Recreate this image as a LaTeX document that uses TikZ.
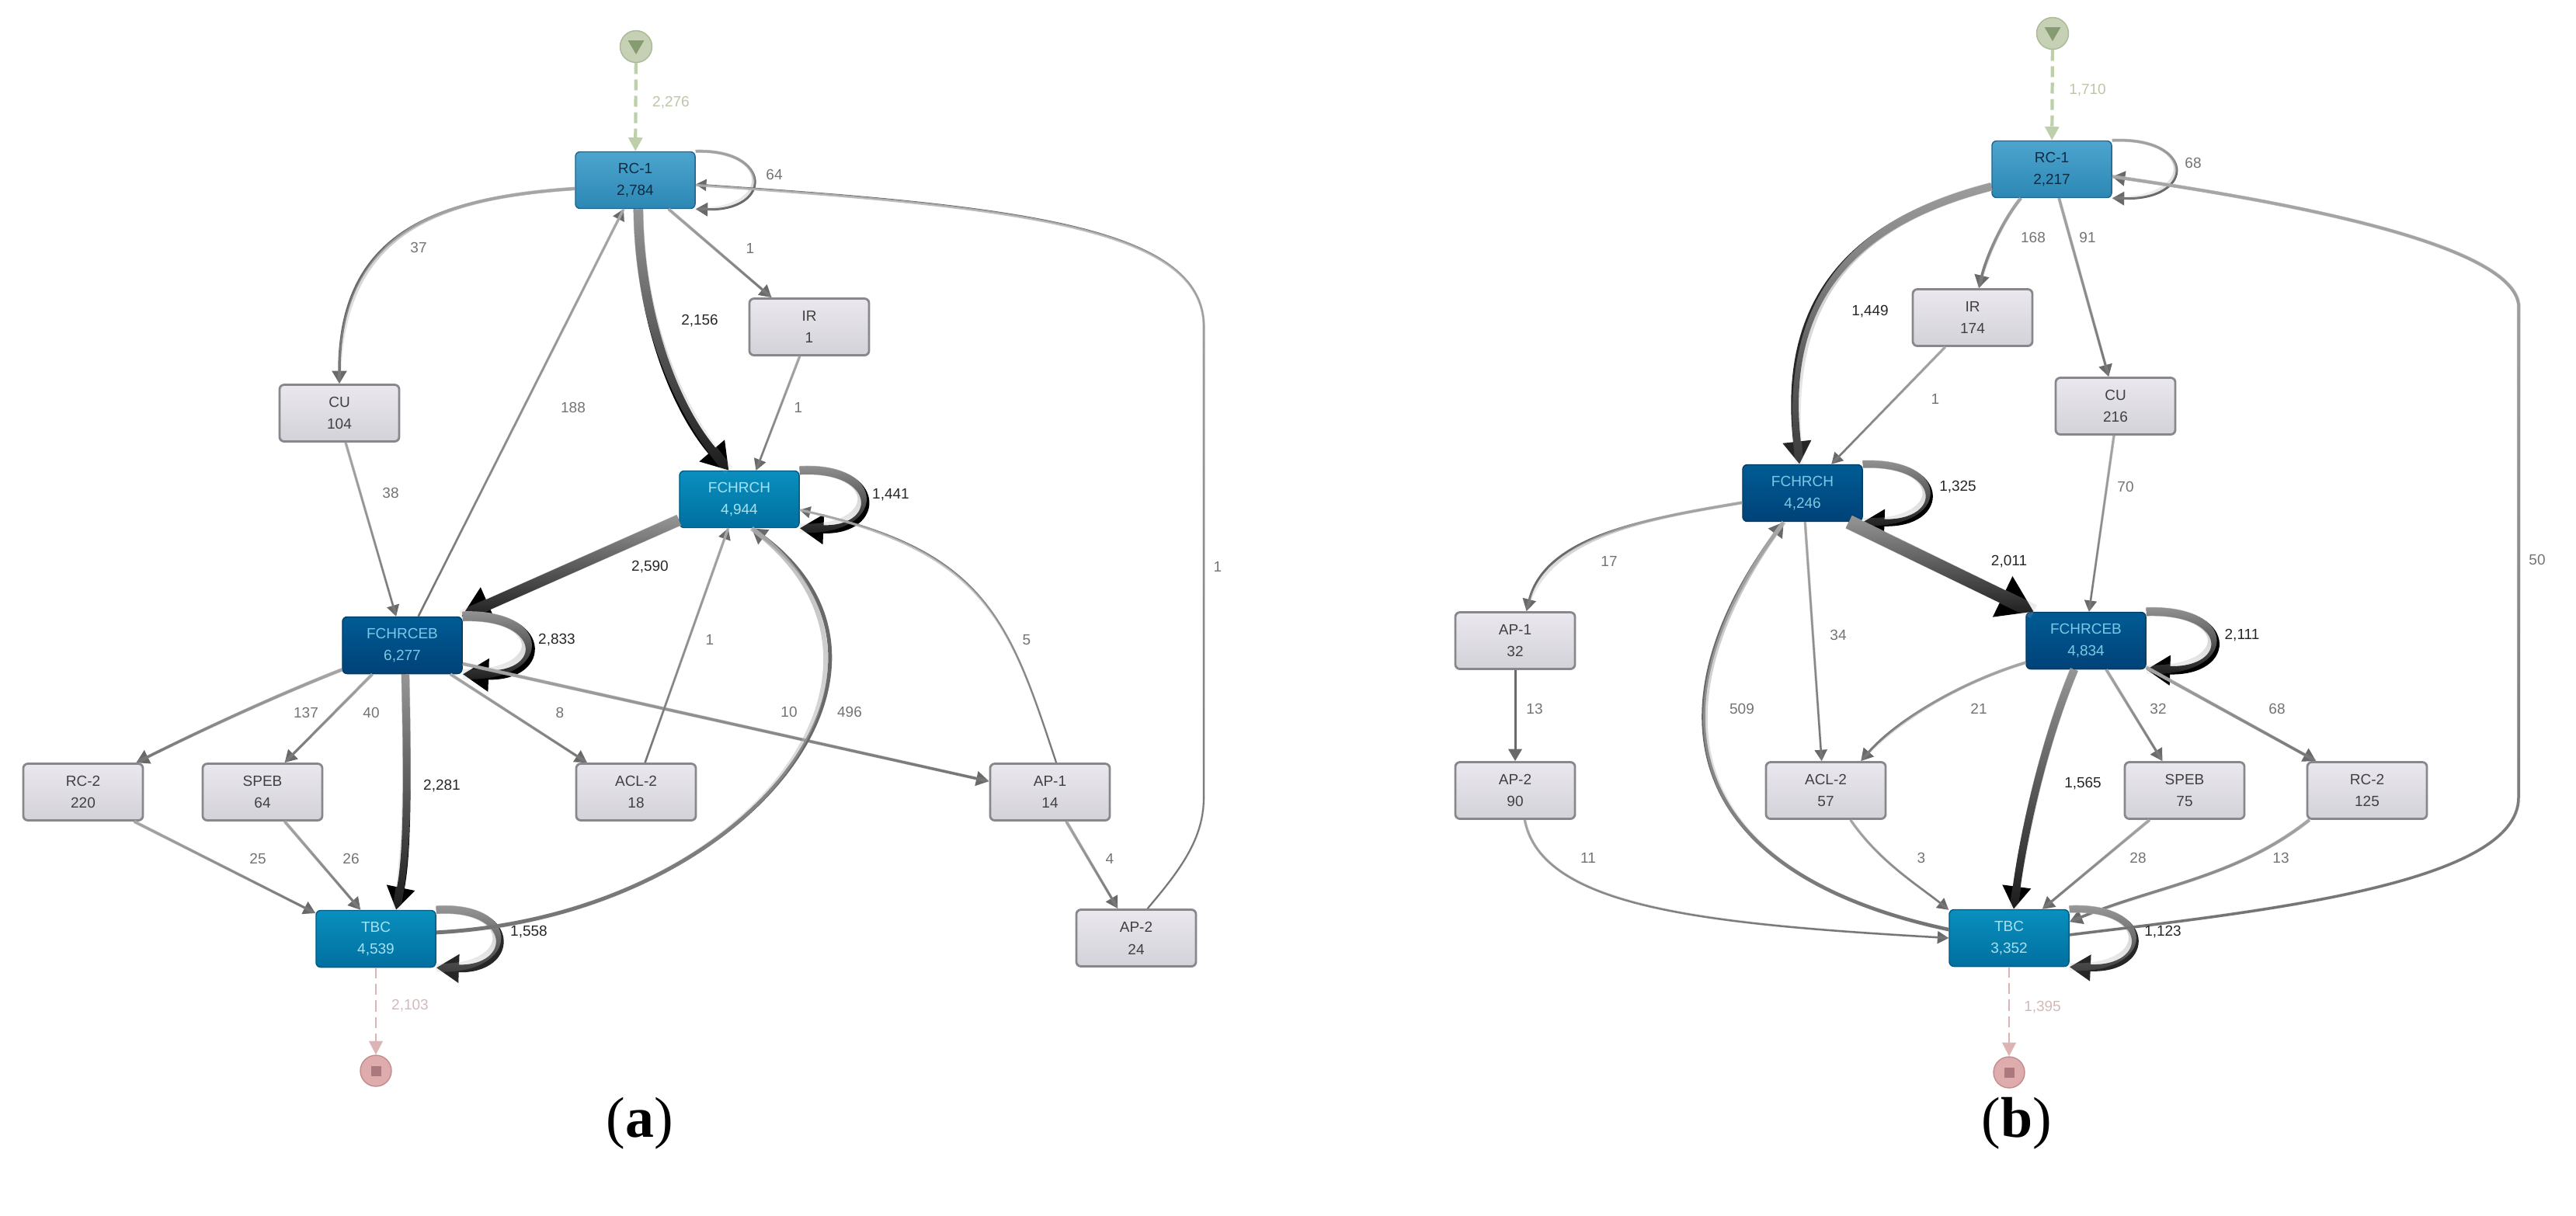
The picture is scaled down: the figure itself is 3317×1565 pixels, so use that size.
\documentclass[tikz,border=0pt]{standalone}
\usepackage{fontspec}
\setmainfont{Liberation Sans}
\newfontfamily\capfont{Liberation Serif}
\usetikzlibrary{arrows.meta, shapes.geometric, fadings}
\definecolor{edgetail}{RGB}{178,178,178}
\definecolor{edgehead}{RGB}{105,105,105}
\definecolor{boxedge}{RGB}{135,135,140}
\tikzset{
	box/.style={rectangle, rounded corners=1.7pt, minimum width=1.54cm, minimum height=0.73cm,
		inner sep=0pt, align=center, font=\fontsize{5.4}{8.2}\selectfont},
	greybox/.style={box, draw=boxedge, thick, top color={rgb,255:red,234;green,232;blue,238}, bottom color={rgb,255:red,212;green,210;blue,217}, text=black!75},
	lightbox/.style={box, draw={rgb,255:red,30;green,100;blue,140}, top color={rgb,255:red,77;green,165;blue,206}, bottom color={rgb,255:red,44;green,135;blue,180}, text={rgb,255:red,10;green,45;blue,70}},
	midbox/.style={box, draw={rgb,255:red,0;green,90;blue,130}, top color={rgb,255:red,10;green,143;blue,190}, bottom color={rgb,255:red,0;green,112;blue,160}, text={rgb,255:red,165;green,225;blue,240}},
	darkbox/.style={box, draw={rgb,255:red,0;green,60;blue,100}, top color={rgb,255:red,0;green,92;blue,148}, bottom color={rgb,255:red,0;green,66;blue,120}, text={rgb,255:red,125;green,200;blue,230}},
	lab/.style={font=\fontsize{5.4}{6}\selectfont, text=black!55, inner sep=0pt},
	labdark/.style={lab, text=black!85},
	labstart/.style={lab, text={rgb,255:red,185;green,198;blue,170}},
	labend/.style={lab, text={rgb,255:red,210;green,185;blue,185}},
	captext/.style={font=\capfont\fontsize{21}{24}\selectfont, inner sep=0pt},
	startdot/.style={circle, minimum size=0.41cm, inner sep=0pt, draw={rgb,255:red,170;green,185;blue,150}, fill={rgb,255:red,198;green,208;blue,180}},
	enddot/.style={circle, minimum size=0.4cm, inner sep=0pt, draw={rgb,255:red,195;green,140;blue,140}, fill={rgb,255:red,222;green,172;blue,172}},
	startmark/.style={regular polygon, regular polygon sides=3, shape border rotate=180, minimum size=0.24cm, inner sep=0pt, fill={rgb,255:red,135;green,155;blue,115}},
	endmark/.style={rectangle, minimum size=0.13cm, inner sep=0pt, fill={rgb,255:red,170;green,120;blue,125}},
	startedge/.style={draw={rgb,255:red,190;green,208;blue,170}, line width=1.2pt, dash pattern=on 4pt off 2pt, -{Triangle[width=5pt, length=5pt]}},
	endedge/.style={draw={rgb,255:red,220;green,180;blue,180}, line width=0.7pt, dash pattern=on 4pt off 2pt, -{Triangle[width=5pt, length=5pt]}},
	flow/.style n args={3}{preaction={draw=#2, line width=#1, -{Triangle[width=2.7pt 2.6, length=2.7pt 2]}},
		postaction={draw=edgetail, line width=#1+.3pt, path fading=south, fading angle=#3, fading transform={scale=1.42}}},
}

\begin{document}
\begin{tikzpicture}[x=0.01cm, y=-0.01cm]
		\useasboundingbox (0,0) rectangle (3317,1565);

		% Panel (a)
		\node (startA) at (819,60) [startdot] {};
		\node (triA) at (819,58) [startmark] {};
		\node (rcA) at (818,232) [lightbox] {RC-1\\2,784};
		\node (cuA) at (437,532) [greybox] {CU\\104};
		\node (irA) at (1042,421) [greybox] {IR\\1};
		\node (fchA) at (952,643) [midbox] {FCHRCH\\4,944};
		\node (fcebA) at (518,831) [darkbox] {FCHRCEB\\6,277};
		\node (rc2A) at (107,1020) [greybox] {RC-2\\220};
		\node (spebA) at (338,1020) [greybox] {SPEB\\64};
		\node (aclA) at (819,1020) [greybox] {ACL-2\\18};
		\node (ap1A) at (1352,1020) [greybox] {AP-1\\14};
		\node (ap2A) at (1463,1208) [greybox] {AP-2\\24};
		\node (tbcA) at (484,1209) [midbox] {TBC\\4,539};
		\node (endA) at (484,1379) [enddot] {};
		\node (sqA) at (484,1379) [endmark] {};

		\draw[startedge] (startA) -- (rcA);
		\draw[endedge] (tbcA) -- (endA);

		\path[flow={.85pt}{edgehead}{0}] (rcA.north east) .. controls (995,192) and (995,272) .. (rcA.south east);
		\path[flow={1pt}{edgehead}{90}] (rcA.188) .. controls (560,255) and (437,300) .. (cuA.north);
		\path[flow={3.4pt}{black}{0}] (rcA.-84) .. controls (823,400) and (865,520) .. (fchA.110);
		\path[flow={.85pt}{edgehead}{45}] (rcA.-41) -- (irA.142);
		\path[flow={.7pt}{edgehead}{-45}] (irA.-108) -- (fchA.60);
		\path[flow={.7pt}{edgehead}{45}] (cuA.-78) -- (fcebA.102);
		\path[flow={.7pt}{edgehead}{135}] (fcebA.61) -- (rcA.-112);
		\path[flow={4pt}{black}{-45}] (fchA.199) -- (fcebA.26);
		\path[flow={3pt}{black}{0}] (fchA.north east) .. controls (1137,600) and (1137,685) .. (fchA.south east);
		\path[flow={3.4pt}{black}{0}] (fcebA.north east) .. controls (706,790) and (706,872) .. (fcebA.south east);
		\path[flow={2.8pt}{black!85}{0}] (tbcA.north east) .. controls (666,1165) and (666,1250) .. (tbcA.south east);
		\path[flow={1pt}{edgehead}{-45}] (fcebA.202) .. controls (370,890) and (280,930) .. (rc2A.29);
		\path[flow={.85pt}{edgehead}{-45}] (fcebA.224) -- (spebA.53);
		\path[flow={2.8pt}{black}{0}] (fcebA.-84) .. controls (525,1000) and (525,1100) .. (tbcA.55);
		\path[flow={.85pt}{edgehead}{45}] (fcebA.-31) -- (aclA.149);
		\path[flow={1pt}{edgehead}{45}] (fcebA.-17) -- (ap1A.170);
		\path[flow={.7pt}{edgehead}{135}] (aclA.73) -- (fchA.-111);
		\path[flow={1.4pt}{edgehead}{135}] (tbcA.6) .. controls (960,1180) and (1210,860) .. (fchA.-67);
		\path[flow={.85pt}{edgehead}{45}] (rc2A.-30) -- (tbcA.157);
		\path[flow={.85pt}{edgehead}{45}] (spebA.-53) -- (tbcA.118);
		\path[flow={.85pt}{edgehead}{45}] (ap1A.-61) -- (ap2A.122);
		\path[flow={.6pt}{edgehead}{-135}] (ap1A.78) .. controls (1300,800) and (1270,710) .. (fchA.-10);
		\path[flow={.6pt}{edgehead}{-135}] (ap2A.69) .. controls (1520,1120) and (1550,1080) .. (1550,1027)
			-- (1550,420) .. controls (1550,290) and (1300,265) .. (rcA.-4);

		\node (t1) at (864,132) [labstart] {2,276};
		\node (t2) at (997,225) [lab] {64};
		\node (t3) at (539,319) [lab] {37};
		\node (t4) at (966,320) [lab] {1};
		\node (t5) at (901,413) [labdark] {2,156};
		\node (t6) at (738,525) [lab] {188};
		\node (t7) at (1028,525) [lab] {1};
		\node (t8) at (503,635) [lab] {38};
		\node (t9) at (1147,637) [labdark] {1,441};
		\node (t10) at (837,730) [labdark] {2,590};
		\node (t11) at (1568,730) [lab] {1};
		\node (t12) at (717,824) [labdark] {2,833};
		\node (t13) at (914,824) [lab] {1};
		\node (t14) at (1322,824) [lab] {5};
		\node (t15) at (394,918) [lab] {137};
		\node (t16) at (478,918) [lab] {40};
		\node (t17) at (721,918) [lab] {8};
		\node (t18) at (1016,917) [lab] {10};
		\node (t19) at (1094,917) [lab] {496};
		\node (t20) at (569,1012) [labdark] {2,281};
		\node (t21) at (332,1106) [lab] {25};
		\node (t22) at (452,1106) [lab] {26};
		\node (t23) at (1429,1106) [lab] {4};
		\node (t24) at (681,1200) [labdark] {1,558};
		\node (t25) at (528,1295) [labend] {2,103};
		\node (capA) at (824,1447) [captext] {(\textbf{a})};

		% Panel (b)
		\node (startB) at (2643,43) [startdot] {};
		\node (triB) at (2643,41) [startmark] {};
		\node (rcB) at (2642,218) [lightbox] {RC-1\\2,217};
		\node (irB) at (2540,409) [greybox] {IR\\174};
		\node (cuB) at (2724,523) [greybox] {CU\\216};
		\node (fchB) at (2321,635) [darkbox] {FCHRCH\\4,246};
		\node (fcebB) at (2686,825) [darkbox] {FCHRCEB\\4,834};
		\node (ap1B) at (1951,825) [greybox] {AP-1\\32};
		\node (ap2B) at (1951,1018) [greybox] {AP-2\\90};
		\node (aclB) at (2351,1018) [greybox] {ACL-2\\57};
		\node (spebB) at (2813,1018) [greybox] {SPEB\\75};
		\node (rc2B) at (3048,1018) [greybox] {RC-2\\125};
		\node (tbcB) at (2587,1208) [midbox] {TBC\\3,352};
		\node (endB) at (2587,1381) [enddot] {};
		\node (sqB) at (2587,1381) [endmark] {};

		\draw[startedge] (startB) -- (rcB);
		\draw[endedge] (tbcB) -- (endB);

		\path[flow={.85pt}{edgehead}{0}] (rcB.north east) .. controls (2828,176) and (2828,258) .. (rcB.south east);
		\path[flow={2.8pt}{black!85}{-45}] (rcB.196) .. controls (2370,290) and (2295,400) .. (fchB.96);
		\path[flow={1pt}{edgehead}{-45}] (rcB.223) .. controls (2578,285) and (2558,330) .. (irB.78);
		\path[flow={.85pt}{edgehead}{45}] (rcB.-76) -- (cuB.103);
		\path[flow={.7pt}{edgehead}{-45}] (irB.227) -- (fchB.45);
		\path[flow={.7pt}{edgehead}{-45}] (cuB.-93) -- (fcebB.84);
		\path[flow={2.6pt}{black}{0}] (fchB.north east) .. controls (2508,594) and (2508,676) .. (fchB.south east);
		\path[flow={5pt}{black}{45}] (fchB.-32) -- (fcebB.151);
		\path[flow={.85pt}{edgehead}{-45}] (fchB.189) .. controls (2120,668) and (1990,690) .. (ap1B.69);
		\draw[edgehead, line width=.85pt, -{Triangle[width=2.7pt 2.6, length=2.7pt 2]}] (ap1B.south) -- (ap2B.north);
		\path[flow={.7pt}{edgehead}{45}] (fchB.-85) -- (aclB.98);
		\path[flow={1.3pt}{edgehead}{135}] (tbcB.172) .. controls (2150,1120) and (2130,900) .. (fchB.-123);
		\path[flow={3pt}{black}{0}] (fcebB.north east) .. controls (2877,784) and (2877,866) .. (fcebB.south east);
		\path[flow={.85pt}{edgehead}{-45}] (fcebB.200) .. controls (2520,880) and (2440,930) .. (aclB.40);
		\path[flow={2.8pt}{black}{-45}] (fcebB.248) .. controls (2630,960) and (2605,1080) .. (tbcB.81);
		\path[flow={.85pt}{edgehead}{45}] (fcebB.-55) -- (spebB.127);
		\path[flow={1pt}{edgehead}{45}] (fcebB.-24) -- (rc2B.150);
		\path[flow={.7pt}{edgehead}{45}] (ap2B.-72) .. controls (1985,1170) and (2200,1190) .. (tbcB.west);
		\path[flow={.7pt}{edgehead}{45}] (aclB.-50) .. controls (2420,1110) and (2470,1140) .. (tbcB.155);
		\path[flow={.85pt}{edgehead}{-45}] (spebB.220) -- (tbcB.41);
		\path[flow={1pt}{edgehead}{-45}] (rc2B.207) .. controls (2880,1130) and (2780,1140) .. (tbcB.15);
		\path[flow={2.5pt}{black!85}{0}] (tbcB.north east) .. controls (2773,1166) and (2773,1250) .. (tbcB.south east);
		\path[flow={1pt}{edgehead}{135}] (tbcB.3) .. controls (2900,1175) and (3243,1140) .. (3243,1027) -- (3243,392)
			.. controls (3235,330) and (3050,275) .. (rcB.-7);

		\node (s1) at (2688,116) [labstart] {1,710};
		\node (s2) at (2824,210) [lab] {68};
		\node (s3) at (2618,306) [lab] {168};
		\node (s4) at (2688,306) [lab] {91};
		\node (s5) at (2408,401) [labdark] {1,449};
		\node (s6) at (2492,514) [lab] {1};
		\node (s7) at (2521,627) [labdark] {1,325};
		\node (s8) at (2737,627) [lab] {70};
		\node (s9) at (2587,723) [labdark] {2,011};
		\node (s10) at (2072,723) [lab] {17};
		\node (s11) at (3267,721) [lab] {50};
		\node (s12) at (2367,818) [lab] {34};
		\node (s13) at (2887,818) [labdark] {2,111};
		\node (s14) at (1976,913) [lab] {13};
		\node (s15) at (2243,913) [lab] {509};
		\node (s16) at (2548,913) [lab] {21};
		\node (s17) at (2779,913) [lab] {32};
		\node (s18) at (2932,913) [lab] {68};
		\node (s19) at (2682,1009) [labdark] {1,565};
		\node (s20) at (2045,1105) [lab] {11};
		\node (s21) at (2474,1105) [lab] {3};
		\node (s22) at (2753,1105) [lab] {28};
		\node (s23) at (2937,1105) [lab] {13};
		\node (s24) at (2785,1200) [labdark] {1,123};
		\node (s25) at (2630,1297) [labend] {1,395};
		\node (capB) at (2597,1447) [captext] {(\textbf{b})};
	\end{tikzpicture}
\end{document}
